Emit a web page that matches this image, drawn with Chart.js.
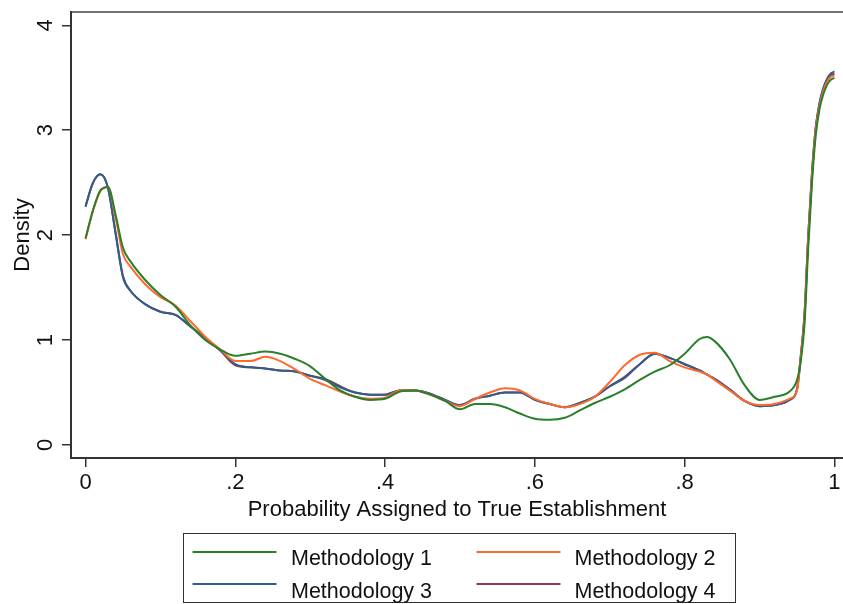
<!DOCTYPE html>
<html>
<head>
<meta charset="utf-8">
<script src="https://cdn.jsdelivr.net/npm/chart.js@4/dist/chart.umd.min.js"></script>
<style>
  html, body { margin: 0; padding: 0; background: #ffffff; }
  #wrap { width: 843px; height: 604px; }
</style>
</head>
<body>
<div id="wrap"><canvas id="c" width="843" height="604"></canvas></div>
<script>
// ---- data ----
const xGrid = [0, 0.01, 0.02, 0.03, 0.04, 0.05, 0.06, 0.08, 0.10, 0.12, 0.14, 0.16, 0.18, 0.20,
  0.22, 0.24, 0.26, 0.28, 0.30, 0.32, 0.34, 0.36, 0.38, 0.40, 0.42, 0.44, 0.46, 0.48, 0.50,
  0.52, 0.54, 0.56, 0.58, 0.60, 0.62, 0.64, 0.66, 0.68, 0.70, 0.72, 0.74, 0.76, 0.78, 0.80,
  0.82, 0.83, 0.84, 0.86, 0.88, 0.90, 0.92, 0.94, 0.95, 0.955, 0.96, 0.965, 0.97, 0.975,
  0.98, 0.985, 0.99, 0.995, 1.0];

const methodology1 = [1.97, 2.24, 2.43, 2.46, 2.20, 1.88, 1.75, 1.57, 1.43, 1.32, 1.14, 1.00, 0.91, 0.85,
  0.87, 0.89, 0.87, 0.82, 0.75, 0.63, 0.52, 0.46, 0.43, 0.44, 0.51, 0.52, 0.48, 0.42, 0.34,
  0.39, 0.39, 0.36, 0.30, 0.25, 0.24, 0.26, 0.33, 0.40, 0.46, 0.53, 0.62, 0.70, 0.76, 0.87,
  1.01, 1.03, 0.99, 0.82, 0.57, 0.43, 0.46, 0.51, 0.62, 0.80, 1.15, 1.88, 2.50, 2.95,
  3.20, 3.34, 3.43, 3.48, 3.50];

const methodology2 = [1.96, 2.23, 2.42, 2.46, 2.17, 1.82, 1.70, 1.53, 1.41, 1.33, 1.18, 1.03, 0.91, 0.80,
  0.80, 0.84, 0.80, 0.72, 0.63, 0.57, 0.51, 0.46, 0.44, 0.45, 0.52, 0.52, 0.48, 0.42, 0.37,
  0.44, 0.50, 0.54, 0.52, 0.44, 0.39, 0.36, 0.39, 0.46, 0.60, 0.76, 0.86, 0.88, 0.80, 0.74,
  0.70, 0.67, 0.62, 0.52, 0.42, 0.38, 0.39, 0.44, 0.52, 0.84, 1.22, 1.97, 2.57, 3.00,
  3.23, 3.37, 3.46, 3.51, 3.52];

const methodology3 = [2.27, 2.50, 2.58, 2.45, 2.02, 1.60, 1.47, 1.34, 1.27, 1.24, 1.13, 1.02, 0.90, 0.77,
  0.74, 0.73, 0.71, 0.70, 0.66, 0.62, 0.55, 0.50, 0.48, 0.48, 0.52, 0.52, 0.49, 0.43, 0.38,
  0.44, 0.47, 0.50, 0.50, 0.43, 0.39, 0.36, 0.40, 0.46, 0.56, 0.64, 0.77, 0.87, 0.83, 0.77,
  0.71, 0.67, 0.63, 0.53, 0.42, 0.37, 0.38, 0.43, 0.53, 0.85, 1.25, 2.00, 2.60, 3.03,
  3.26, 3.40, 3.49, 3.54, 3.56];

const methodology4 = [2.28, 2.50, 2.58, 2.45, 2.03, 1.61, 1.47, 1.34, 1.27, 1.24, 1.13, 1.02, 0.90, 0.76,
  0.74, 0.73, 0.71, 0.70, 0.66, 0.63, 0.56, 0.50, 0.48, 0.48, 0.52, 0.52, 0.49, 0.43, 0.38,
  0.44, 0.47, 0.50, 0.50, 0.43, 0.39, 0.36, 0.40, 0.46, 0.56, 0.65, 0.77, 0.87, 0.83, 0.77,
  0.71, 0.67, 0.63, 0.53, 0.42, 0.37, 0.38, 0.43, 0.53, 0.84, 1.24, 1.99, 2.59, 3.02,
  3.25, 3.39, 3.48, 3.52, 3.54];

const seriesLabels = ['Methodology 1', 'Methodology 2', 'Methodology 3', 'Methodology 4'];
const xTickValues = [0, 0.2, 0.4, 0.6, 0.8, 1];
const xTickLabels = ['0', '.2', '.4', '.6', '.8', '1'];
const yTickValues = [0, 1, 2, 3, 4];
const yTickLabels = ['0', '1', '2', '3', '4'];
const xTitle = 'Probability Assigned to True Establishment';
const yTitle = 'Density';

// ---- styles ----
const colors = ['#2a7f2a', '#ff6a2c', '#2f5d8c', '#8c3d4d'];
const FONT = "'Liberation Sans', Arial, Helvetica, sans-serif";
const seriesValues = [methodology1, methodology2, methodology3, methodology4];

const datasets = seriesValues.map((vals, k) => ({
  label: seriesLabels[k],
  data: xGrid.map((x, i) => ({ x: x, y: vals[i] })),
  borderColor: colors[k],
  backgroundColor: colors[k],
  borderWidth: 2,
  pointRadius: 0,
  pointHoverRadius: 0,
  fill: false,
  cubicInterpolationMode: 'monotone'
}));

const framePlugin = {
  id: 'frameAndLegend',
  afterDraw(chart) {
    const ctx = chart.ctx;
    const a = chart.chartArea;
    ctx.save();
    // plot region outline (top edge)
    ctx.strokeStyle = '#444';
    ctx.lineWidth = 1.5;
    ctx.beginPath();
    ctx.moveTo(a.left, a.top);
    ctx.lineTo(a.right, a.top);
    ctx.stroke();

    // legend box
    const bx = 183.5, by = 533.5, bw = 552, bh = 69;
    ctx.strokeStyle = '#333';
    ctx.lineWidth = 1;
    ctx.strokeRect(bx, by, bw, bh);
    const colLineX = [192.5, 476.5];
    const lineW = 84;
    const colTextX = [291, 574.5];
    const rowLineY = [552, 584];
    const rowBaseY = [564.5, 597.5];
    ctx.font = '21.5px ' + FONT;
    ctx.textBaseline = 'alphabetic';
    ctx.textAlign = 'left';
    chart.data.datasets.forEach((ds, i) => {
      const col = i % 2, row = Math.floor(i / 2);
      ctx.strokeStyle = ds.borderColor;
      ctx.lineWidth = 2;
      ctx.beginPath();
      ctx.moveTo(colLineX[col], rowLineY[row]);
      ctx.lineTo(colLineX[col] + lineW, rowLineY[row]);
      ctx.stroke();
      ctx.fillStyle = '#111';
      ctx.fillText(ds.label, colTextX[col], rowBaseY[row]);
    });
    ctx.restore();
  }
};

new Chart(document.getElementById('c'), {
  type: 'line',
  data: { datasets: datasets },
  options: {
    responsive: false,
    animation: false,
    devicePixelRatio: 1,
    layout: { padding: { top: 12, left: 0, right: 0, bottom: 76 } },
    plugins: {
      legend: { display: false },
      tooltip: { enabled: false },
      title: { display: false }
    },
    scales: {
      x: {
        type: 'linear',
        min: -0.0194,
        max: 1.0114,
        afterBuildTicks: (s) => { s.ticks = xTickValues.map(v => ({ value: v })); },
        afterFit: (s) => { s.height = 70; s.paddingLeft = 0; s.paddingRight = 0; },
        ticks: {
          autoSkip: false,
          maxRotation: 0,
          padding: 3,
          color: '#111',
          font: { family: FONT, size: 22 },
          callback: (v) => { const i = xTickValues.indexOf(v); return i >= 0 ? xTickLabels[i] : ''; }
        },
        grid: { drawOnChartArea: false, drawTicks: true, tickLength: 9, color: '#333', lineWidth: 1.5 },
        border: { display: true, color: '#333', width: 2 },
        title: { display: true, text: xTitle, color: '#111', font: { family: FONT, size: 22 }, padding: { top: 0, bottom: 5 } }
      },
      y: {
        type: 'linear',
        min: -0.124,
        max: 4.127,
        afterBuildTicks: (s) => { s.ticks = yTickValues.map(v => ({ value: v })); },
        afterFit: (s) => { s.width = 71; s.paddingTop = 0; s.paddingBottom = 0; },
        ticks: {
          autoSkip: false,
          minRotation: 90,
          maxRotation: 90,
          crossAlign: 'center',
          padding: 10,
          color: '#111',
          font: { family: FONT, size: 22 },
          callback: (v) => { const i = yTickValues.indexOf(v); return i >= 0 ? yTickLabels[i] : ''; }
        },
        grid: { drawOnChartArea: false, drawTicks: true, tickLength: 9, color: '#333', lineWidth: 1.5 },
        border: { display: true, color: '#333', width: 2 },
        title: { display: true, text: yTitle, color: '#111', font: { family: FONT, size: 22 }, padding: { top: 10, bottom: 0 } }
      }
    }
  },
  plugins: [framePlugin]
});
</script>
</body>
</html>
